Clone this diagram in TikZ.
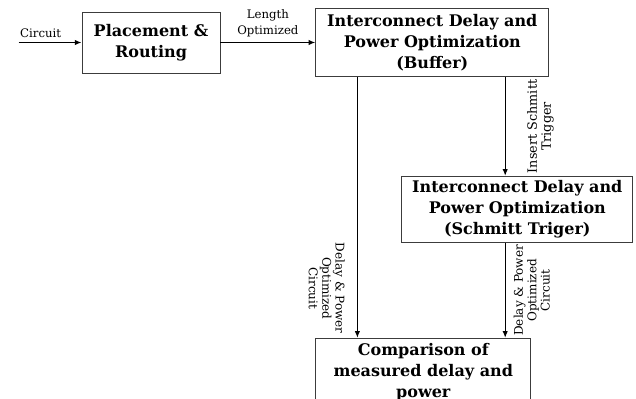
\documentclass[tikz,border=0pt]{standalone}
\usepackage{fontspec}
\setmainfont{DejaVu Serif}
\usetikzlibrary{arrows.meta, positioning, calc}
\definecolor{boxgray}{RGB}{60,60,60}
\tikzset{
  block/.style={rectangle, draw=boxgray, fill=white, align=center,
    inner sep=2pt, line width=0.6pt,
    font=\bfseries\fontsize{12}{15.75}\selectfont},
  arrow/.style={-{Latex[length=5pt,width=4pt]}, line width=1pt, color=black},
  lbl/.style={font=\fontsize{8.8}{12}\selectfont, align=center},
  vlbl/.style={font=\fontsize{9}{10}\selectfont, align=center,
    anchor=north, inner xsep=1pt, inner ysep=#1},
  vlbl/.default=3pt
}

\begin{document}
\begin{tikzpicture}[x=0.75pt, y=-0.75pt]
  \useasboundingbox (0,0) rectangle (636,399);
  \clip (0,0) rectangle (636,399);

  % Blocks
  \node[block, minimum width=103.5pt, minimum height=45.75pt] (place) at (151,42.5) {Placement \&\\Routing};
  \node[block, right=71.25pt of place, minimum width=174.75pt, minimum height=51pt] (buffer) {Interconnect Delay and\\Power Optimization\\(Buffer)};
  \node[block, anchor=north west, minimum width=173.25pt, minimum height=49.5pt] (schmitt) at ($(buffer.south west)+(86,99)$) {Interconnect Delay and\\Power Optimization\\(Schmitt Triger)};
  \node[block, anchor=north west, minimum width=161.25pt, minimum height=51pt] (cmp) at ($(buffer.south west)+(0,261)$) {Comparison of\\measured delay and\\power};

  % Paths
  \coordinate[left=47.25pt of place.west] (src);
  \draw[arrow] (src) -- node[lbl, above, pos=0.35] {Circuit} (place.west);
  \draw[arrow] (place.east) -- node[lbl, above] {Length\\Optimized} (place.east -| buffer.west);

  \coordinate (bl) at ($(buffer.south west)+(42,0)$);
  \coordinate (br) at ($(buffer.south east)+(-44,0)$);
  \draw[arrow] (bl) -- node[vlbl=9pt, rotate=-90, pos=0.81] {Delay \& Power\\Optimized\\Circuit} (bl |- cmp.north);
  \draw[arrow] (br) -- node[vlbl=16pt, rotate=90, font=\fontsize{9.6}{10.5}\selectfont] {Insert Schmitt\\Trigger} (br |- schmitt.north);
  \draw[arrow] (br |- schmitt.south) -- node[vlbl=6pt, rotate=90] {Delay \& Power\\Optimized\\Circuit} (br |- cmp.north);
\end{tikzpicture}
\end{document}
